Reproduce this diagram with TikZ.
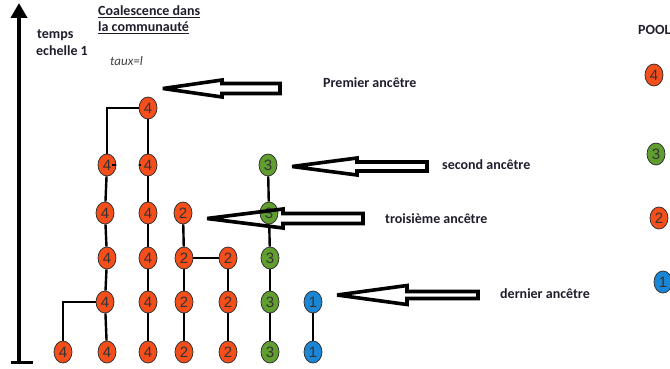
\documentclass[tikz,border=0pt]{standalone}
\usepackage{fontspec}
\setmainfont{Carlito}
\newfontfamily\numfont{Liberation Sans}
\usetikzlibrary{shapes.geometric,arrows.meta}
\definecolor{nred}{RGB}{244,78,26}
\definecolor{ngreen}{RGB}{96,158,48}
\definecolor{nblue}{RGB}{28,134,214}
\definecolor{txt}{RGB}{30,30,45}
\tikzset{
 gnode/.style={ellipse, draw=black!80, line width=0.8pt, minimum width=18pt, minimum height=22pt, inner sep=0pt, font=\numfont\fontsize{15}{15}\selectfont, text=black!80},
 rn/.style={gnode, fill=nred},
 gn/.style={gnode, fill=ngreen},
 bn/.style={gnode, fill=nblue},
 link/.style={line width=2.4pt, black},
 lbl/.style={font=\bfseries\fontsize{14}{16}\selectfont, anchor=west, inner sep=0pt, text=txt},
 blk/.style={line width=3.6pt, draw=black, line join=miter, miter limit=4},
}
\begin{document}
\begin{tikzpicture}[x=1pt,y=-1pt]
\useasboundingbox (0,0) rectangle (670,369);
% time axis
\coordinate (ax0) at (19,362);
\coordinate (ax1) at (19,3);
\coordinate (bar0) at (11,362);
\coordinate (bar1) at (33,362);
\draw[line width=4pt, -{Triangle[width=16pt,length=15pt]}] (ax0) -- (ax1);
\draw[line width=3pt] (bar0) -- (bar1);
% texts
\node[lbl] (t1) at (37,35) {temps};
\node[lbl] (t2) at (36,51) {echelle 1};
\node[lbl] (h1) at (98,12) {\underline{Coalescence dans}};
\node[lbl] (h2) at (98,28) {\underline{la communauté}};
\node[lbl, font=\itshape\fontsize{13}{15}\selectfont, text=black!75] (tx) at (110,61) {taux=l};
\node[lbl] (pool) at (638,30) {POOL};
% column A
\node[rn] (A1) at (63,352) {4};
% column B
\node[rn] (B1) at (107,352) {4};
\node[rn] (B2) at (105,302) {4};
\node[rn] (B3) at (107,258) {4};
\node[rn] (B4) at (105,213) {4};
\node[rn] (B5) at (107,165) {4};
% column C
\node[rn] (C1) at (148,108) {4};
\node[rn] (C2) at (148,165) {4};
\node[rn] (C3) at (148,213) {4};
\node[rn] (C4) at (148,258) {4};
\node[rn] (C5) at (148,302) {4};
\node[rn] (C6) at (148,352) {4};
% column D
\node[rn] (D1) at (183,213) {2};
\node[rn] (D2) at (184,258) {2};
\node[rn] (D3) at (184,302) {2};
\node[rn] (D4) at (184,352) {2};
% column E
\node[rn] (E1) at (228,258) {2};
\node[rn] (E2) at (228,302) {2};
\node[rn] (E3) at (228,352) {2};
% column F
\node[gn] (F1) at (268,165) {3};
\node[gn] (F2) at (269,213) {3};
\node[gn] (F3) at (270,258) {3};
\node[gn] (F4) at (270,302) {3};
\node[gn] (F5) at (270,352) {3};
% column G
\node[bn] (G1) at (313,302) {1};
\node[bn] (G2) at (313,352) {1};
% pool
\node[rn] (P4) at (654,75) {4};
\node[gn] (P3) at (656,154) {3};
\node[rn] (P2) at (659,218) {2};
\node[bn] (P1) at (663,282) {1};
% links
\draw[link] (A1) |- (B2);
\draw[link] (B1) -- (B2);
\draw[link] (B2) -- (B3);
\draw[link] (B3) -- (B4);
\draw[link] (B4) -- (B5);
\draw[link] (B5) |- (C1);
\draw[link] (C1) -- (C2);
\draw[link] (C2) -- (C3);
\draw[link] (C3) -- (C4);
\draw[link] (C4) -- (C5);
\draw[link] (C5) -- (C6);
\draw[link] (D1) -- (D2);
\draw[link] (D2) -- (D3);
\draw[link] (D3) -- (D4);
\draw[link] (D2) -- (E1);
\draw[link] (E1) -- (E2);
\draw[link] (E2) -- (E3);
\draw[link] (F1) -- (F2);
\draw[link] (F2) -- (F3);
\draw[link] (F3) -- (F4);
\draw[link] (F4) -- (F5);
\draw[link] (G1) -- (G2);
% small stubs
\draw[line width=2pt] ([xshift=-4pt]B5.east) -- (B5.east);
\draw[line width=2pt] (C2.west) -- ([xshift=2pt]C2.west);
% block arrows
\coordinate (k1) at (163,88.5);
\draw[blk] (k1) -- ++(59,-8.5) -- ++(0,3.5) -- ++(58,0) -- ++(0,10) -- ++(-58,0) -- ++(0,3.5) -- cycle;
\node[lbl] (L1) at (323,83) {Premier ancêtre};
\coordinate (k2) at (292,166.5);
\draw[blk] (k2) -- ++(65,-8.5) -- ++(0,4) -- ++(70,0) -- ++(0,9) -- ++(-70,0) -- ++(0,4) -- cycle;
\node[lbl] (L2) at (442,165) {second ancêtre};
\coordinate (k3) at (207,218.5);
\draw[blk] (k3) -- ++(76,-9.5) -- ++(0,4.5) -- ++(80,0) -- ++(0,10) -- ++(-80,0) -- ++(0,4.5) -- cycle;
\node[lbl] (L3) at (385,219) {troisième ancêtre};
\coordinate (k4) at (337,295);
\draw[blk] (k4) -- ++(70,-9.5) -- ++(0,6) -- ++(71,0) -- ++(0,7) -- ++(-71,0) -- ++(0,6) -- cycle;
\node[lbl] (L4) at (500,294) {dernier ancêtre};
\end{tikzpicture}
\end{document}
